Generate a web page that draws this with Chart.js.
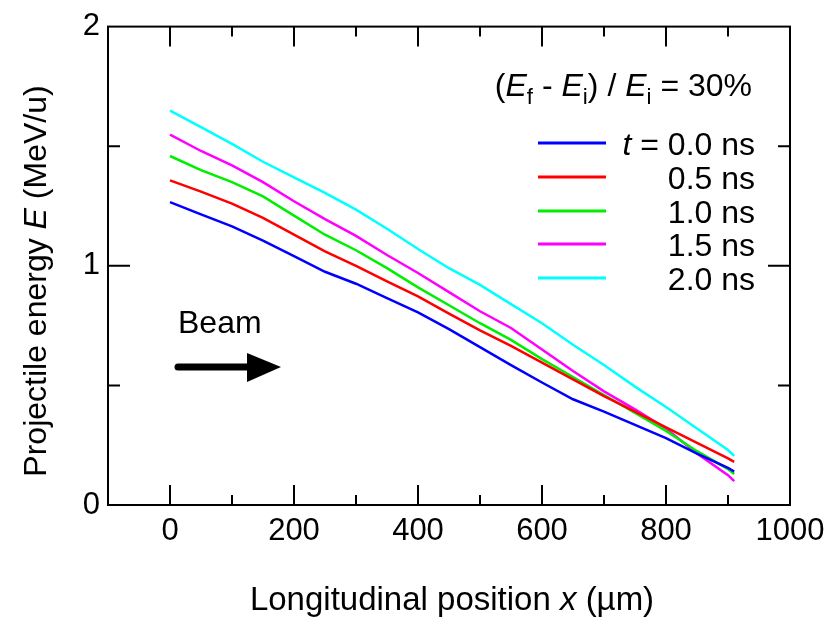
<!DOCTYPE html>
<html>
<head>
<meta charset="utf-8">
<script src="https://cdn.jsdelivr.net/npm/chart.js@4"></script>
<style>
  html, body { margin: 0; padding: 0; background: #fff; }
  canvas { display: block; }
</style>
</head>
<body>
<canvas id="myChart" width="836" height="620"></canvas>
<script>
// positions along the target (um)
var positions = [0, 50, 100, 150, 200, 250, 300, 350, 400, 450, 500, 550, 600, 650, 700, 750, 800, 850, 900, 910];

// projectile energy (MeV/u) for each time step
var energy00 = [1.266, 1.215, 1.165, 1.105, 1.04, 0.975, 0.925, 0.865, 0.805, 0.735, 0.66, 0.585, 0.512, 0.442, 0.39, 0.335, 0.28, 0.215, 0.155, 0.14];
var energy05 = [1.357, 1.31, 1.26, 1.2, 1.13, 1.06, 1.0, 0.935, 0.872, 0.80, 0.73, 0.665, 0.595, 0.525, 0.455, 0.39, 0.325, 0.26, 0.195, 0.18];
var energy10 = [1.459, 1.40, 1.35, 1.29, 1.21, 1.13, 1.065, 0.99, 0.91, 0.835, 0.76, 0.69, 0.61, 0.535, 0.46, 0.385, 0.31, 0.225, 0.15, 0.13];
var energy15 = [1.548, 1.48, 1.42, 1.35, 1.27, 1.195, 1.125, 1.045, 0.97, 0.89, 0.81, 0.74, 0.65, 0.56, 0.475, 0.40, 0.32, 0.215, 0.125, 0.10];
var energy20 = [1.649, 1.58, 1.51, 1.435, 1.37, 1.305, 1.235, 1.155, 1.07, 0.99, 0.92, 0.84, 0.76, 0.67, 0.585, 0.495, 0.41, 0.32, 0.23, 0.205];

var seriesLabels = ['0.0 ns', '0.5 ns', '1.0 ns', '1.5 ns', '2.0 ns'];
var seriesColors = ['#0000ff', '#ff0000', '#00ee00', '#ff00ff', '#00ffff'];
var seriesValues = [energy00, energy05, energy10, energy15, energy20];

var FONT = '"Liberation Sans", Arial, sans-serif';

/**
 * draw a run of text pieces, some italic or subscript
 * return the width drawn
 */
function drawRich(ctx, parts, x, y, size, align) {
  var widths = parts.map(function(p) {
    ctx.font = (p.italic ? 'italic ' : '') + (p.sub ? size * 0.7 : size) + 'px ' + FONT;
    return ctx.measureText(p.text).width;
  });
  var total = widths.reduce(function(a, b) { return a + b; }, 0);
  var cx = x;
  if (align === 'center') cx = x - total / 2;
  if (align === 'right') cx = x - total;
  parts.forEach(function(p, i) {
    ctx.font = (p.italic ? 'italic ' : '') + (p.sub ? size * 0.7 : size) + 'px ' + FONT;
    ctx.textAlign = 'left';
    ctx.fillText(p.text, cx, p.sub ? y + size * 0.25 : y);
    cx += widths[i];
  });
  return total;
}

var decorPlugin = {
  id: 'decor',
  afterDraw: function(chart) {
    var ctx = chart.ctx;
    var a = chart.chartArea;
    var xs = chart.scales.x, ys = chart.scales.y;
    ctx.save();
    ctx.strokeStyle = '#000';
    ctx.fillStyle = '#000';
    ctx.lineWidth = 2;

    // frame
    ctx.strokeRect(a.left, a.top, a.right - a.left, a.bottom - a.top);

    // inward ticks on all four sides
    ctx.beginPath();
    xs.ticks.forEach(function(t) {
      var px = xs.getPixelForValue(t.value);
      if (px <= a.left + 1 || px >= a.right - 1) return;
      var len = t.value % 200 === 0 ? 20 : 10;
      ctx.moveTo(px, a.bottom); ctx.lineTo(px, a.bottom - len);
      ctx.moveTo(px, a.top); ctx.lineTo(px, a.top + len);
    });
    ys.ticks.forEach(function(t) {
      var py = ys.getPixelForValue(t.value);
      if (py <= a.top + 1 || py >= a.bottom - 1) return;
      var len = Number.isInteger(t.value) ? 22 : 12;
      ctx.moveTo(a.left, py); ctx.lineTo(a.left + len, py);
      ctx.moveTo(a.right, py); ctx.lineTo(a.right - len, py);
    });
    ctx.stroke();

    ctx.textBaseline = 'alphabetic';

    // x axis title
    drawRich(ctx, [
      { text: 'Longitudinal position ' },
      { text: 'x', italic: true },
      { text: ' (\u00b5m)' }
    ], (a.left + a.right) / 2 + 3, 610, 33, 'center');

    // y axis title
    ctx.save();
    ctx.translate(46, 281);
    ctx.rotate(-Math.PI / 2);
    drawRich(ctx, [
      { text: 'Projectile energy ' },
      { text: 'E', italic: true },
      { text: ' (MeV/u)' }
    ], 0, 0, 32, 'center');
    ctx.restore();

    // ratio note
    drawRich(ctx, [
      { text: '(' },
      { text: 'E', italic: true },
      { text: 'f', sub: true },
      { text: ' - ' },
      { text: 'E', italic: true },
      { text: 'i', sub: true },
      { text: ') / ' },
      { text: 'E', italic: true },
      { text: 'i', sub: true },
      { text: ' = 30%' }
    ], 752, 96, 32, 'right');

    // legend
    var rowY = [143, 177, 211, 244, 278];
    chart.data.datasets.forEach(function(ds, i) {
      ctx.strokeStyle = ds.borderColor;
      ctx.lineWidth = 3;
      ctx.beginPath();
      ctx.moveTo(538, rowY[i]);
      ctx.lineTo(606, rowY[i]);
      ctx.stroke();
      var parts = [{ text: seriesLabels[i] }];
      if (i === 0) parts = [{ text: 't', italic: true }, { text: ' = ' + seriesLabels[i] }];
      drawRich(ctx, parts, 755, rowY[i] + 12, 32, 'right');
    });

    // beam arrow
    ctx.font = '32px ' + FONT;
    ctx.textAlign = 'left';
    ctx.fillText('Beam', 178, 333);
    ctx.strokeStyle = '#000';
    ctx.lineWidth = 7;
    ctx.lineCap = 'round';
    ctx.beginPath();
    ctx.moveTo(178, 367);
    ctx.lineTo(250, 367);
    ctx.stroke();
    ctx.beginPath();
    ctx.moveTo(247, 353);
    ctx.lineTo(281, 367);
    ctx.lineTo(247, 382);
    ctx.closePath();
    ctx.fill();

    ctx.restore();
  }
};

function buildDatasets() {
  return seriesValues.map(function(vals, i) {
    return {
      label: seriesLabels[i],
      data: positions.map(function(p, j) { return { x: p, y: vals[j] }; }),
      borderColor: seriesColors[i],
      backgroundColor: seriesColors[i],
      borderWidth: 2.5,
      pointRadius: 0,
      tension: 0,
      fill: false
    };
  });
}

function drawChart() {
  var element = document.getElementById('myChart').getContext('2d');
  var myChart = new Chart(element, {
    type: 'line',
    data: { datasets: buildDatasets() },
    options: {
      responsive: false,
      animation: false,
      devicePixelRatio: 1,
      layout: { padding: { top: 26, right: 46, bottom: 0, left: 0 } },
      plugins: { legend: { display: false }, tooltip: { enabled: false } },
      scales: {
        x: {
          type: 'linear',
          min: -100,
          max: 1000,
          grid: { display: false, drawTicks: false },
          border: { display: false },
          ticks: {
            stepSize: 100,
            autoSkip: false,
            maxRotation: 0,
            padding: 8,
            color: '#000',
            font: { family: FONT, size: 31 },
            callback: function(v) { return v % 200 === 0 ? String(v) : ''; }
          },
          afterFit: function(s) { s.height = 115; }
        },
        y: {
          min: 0,
          max: 2,
          grid: { display: false, drawTicks: false },
          border: { display: false },
          ticks: {
            stepSize: 0.5,
            autoSkip: false,
            padding: 8,
            color: '#000',
            font: { family: FONT, size: 31 },
            callback: function(v) { return Number.isInteger(v) ? String(v) : ''; }
          },
          afterFit: function(s) { s.width = 108; }
        }
      }
    },
    plugins: [decorPlugin]
  });
}

drawChart();
</script>
</body>
</html>
